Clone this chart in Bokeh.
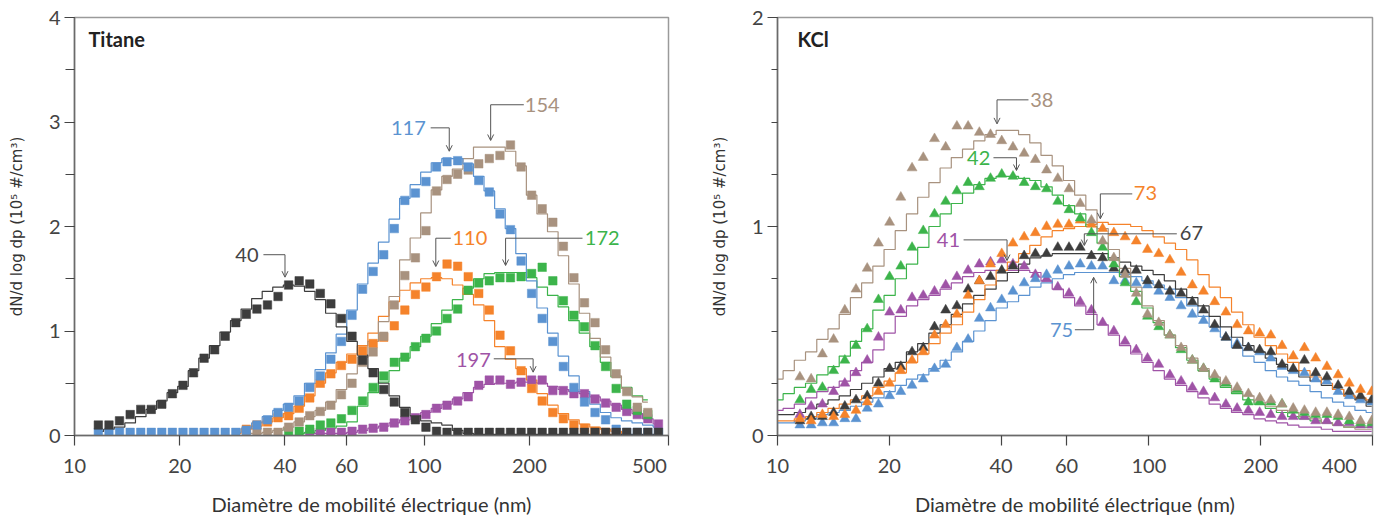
import numpy as np
from bokeh.plotting import figure
from bokeh.layouts import row
from bokeh.models import (FixedTicker, SingleIntervalTicker, Arrow, OpenHead, Label,
                          Range1d, BasicTickFormatter)
from bokeh.embed import file_html
from bokeh.resources import INLINE

nan = float("nan")

# ---------------- Titane (left panel) ----------------
diam_ti = [11.70, 12.55, 13.45, 14.43, 15.47, 16.58, 17.77, 19.05, 20.43, 21.90,
           23.48, 25.17, 26.98, 28.93, 31.01, 33.25, 35.64, 38.21, 40.97, 43.92,
           47.09, 50.47, 54.11, 58.02, 62.20, 66.68, 71.48, 76.63, 82.16, 88.08,
           94.41, 101.2, 108.5, 116.3, 124.7, 133.7, 143.3, 153.6, 164.8, 176.6,
           189.4, 203.0, 217.6, 233.4, 250.2, 268.2, 287.5, 308.2, 330.4, 354.2,
           379.7, 407.1, 436.4, 468.0]

ti40_pts = [0.10, 0.10, 0.14, 0.20, 0.25, 0.25, 0.30, 0.40, 0.48, 0.60,
            0.74, 0.82, 0.95, 1.08, 1.16, 1.21, 1.25, 1.33, 1.44, 1.48,
            1.45, 1.36, 1.26, 1.12, 0.95, 0.72, 0.60, 0.44, 0.32, 0.22,
            0.15, 0.08, 0.04] + [0.03] * 21
ti40_fit = [0.04, 0.06, 0.08, 0.12, 0.18, 0.25, 0.33, 0.41, 0.47, 0.62,
            0.74, 0.86, 0.99, 1.10, 1.21, 1.31, 1.38, 1.42, 1.44, 1.43,
            1.38, 1.30, 1.17, 1.04, 0.90, 0.77, 0.64, 0.50, 0.38, 0.27,
            0.19, 0.14, 0.12, 0.10, 0.05, 0.02] + [0.01] * 18

ti117_pts = [0.03] * 14 + [0.05, 0.10, 0.15, 0.22, 0.27, 0.33, 0.46, 0.57, 0.73, 0.90,
                           1.15, 1.40, 1.57, 1.73, 1.98, 2.25, 2.32, 2.43, 2.57, 2.62,
                           2.63, 2.57, 2.44, 2.33, 2.12, 1.97, 1.67, 1.36, 1.12, 0.90,
                           0.66, 0.46, 0.32, 0.22, 0.15, 0.06, 0.03, 0.03, 0.03, 0.03]
ti117_fit = [nan] * 13 + [0.03, 0.07, 0.12, 0.18, 0.24, 0.30, 0.38, 0.50, 0.63, 0.79,
                          0.97, 1.20, 1.45, 1.65, 1.85, 2.07, 2.27, 2.40, 2.52, 2.61,
                          2.65, 2.65, 2.60, 2.48, 2.34, 2.17, 1.98, 1.74, 1.48, 1.22,
                          0.98, 0.76, 0.57, 0.42, 0.30, 0.22, 0.17, 0.14, 0.12, 0.10,
                          0.08]

ti154_pts = [nan] * 14 + [0.03, 0.03, 0.03, 0.03, 0.08, 0.13, 0.19, 0.23, 0.29, 0.39,
                          0.50, 0.70, 0.80, 0.95, 1.25, 1.53, 1.70, 1.96, 2.34, 2.45,
                          2.50, 2.54, 2.60, 2.65, 2.68, 2.78, 2.57, 2.30, 2.17, 2.04,
                          1.81, 1.51, 1.27, 1.08, 0.82, 0.59, 0.42, 0.27, 0.22, nan]
ti154_fit = [nan] * 14 + [0.02, 0.02, 0.03, 0.05, 0.08, 0.13, 0.18, 0.24, 0.32, 0.44,
                          0.59, 0.75, 0.90, 1.09, 1.33, 1.68, 1.89, 2.13, 2.35, 2.48,
                          2.55, 2.65, 2.76, 2.76, 2.76, 2.72, 2.58, 2.30, 2.12, 1.95,
                          1.72, 1.45, 1.17, 0.93, 0.75, 0.57, 0.45, 0.37, 0.32, nan]

ti110_pts = [nan] * 14 + [0.06, 0.10, 0.13, 0.17, 0.19, 0.26, 0.36, 0.50, 0.59, 0.67,
                          0.73, 0.81, 0.88, 0.94, 1.05, 1.20, 1.35, 1.42, 1.52, 1.64,
                          1.62, 1.52, 1.36, 1.20, 0.96, 0.81, 0.62, 0.45, 0.33, 0.22,
                          0.16, 0.10, 0.07, 0.04, 0.03, 0.03, nan, nan, nan, nan]
ti110_fit = [nan] * 13 + [0.02, 0.06, 0.09, 0.13, 0.17, 0.21, 0.28, 0.38, 0.50, 0.60,
                          0.70, 0.78, 0.86, 0.98, 1.14, 1.28, 1.39, 1.46, 1.50, 1.51,
                          1.50, 1.44, 1.35, 1.25, 1.10, 0.85, 0.73, 0.64, 0.53, 0.40,
                          0.29, 0.21, 0.15, 0.11, 0.08, 0.06, 0.04, 0.02, nan, nan,
                          nan]

ti172_pts = [nan] * 18 + [0.03, 0.04, 0.06, 0.10, 0.12, 0.16, 0.24, 0.33, 0.46, 0.57,
                          0.70, 0.75, 0.85, 0.93, 1.00, 1.12, 1.21, 1.39, 1.46, 1.48,
                          1.51, 1.51, 1.52, 1.55, 1.61, 1.48, 1.29, 1.15, 1.04, 0.86,
                          0.66, 0.45, 0.30, 0.24, 0.20, nan]
ti172_fit = [nan] * 19 + [0.02, 0.03, 0.05, 0.07, 0.09, 0.13, 0.28, 0.41, 0.51, 0.62,
                          0.74, 0.85, 0.95, 1.07, 1.20, 1.30, 1.41, 1.50, 1.55, 1.56,
                          1.56, 1.56, 1.51, 1.42, 1.34, 1.23, 1.10, 0.98, 0.85, 0.70,
                          0.56, 0.46, 0.38, 0.34, nan]

ti197_pts = [nan] * 20 + [0.03, 0.03, 0.03, 0.03, 0.04, 0.06, 0.07, 0.08, 0.12, 0.14,
                          0.17, 0.20, 0.26, 0.29, 0.33, 0.37, 0.48, 0.53, 0.53, 0.49,
                          0.51, 0.53, 0.53, 0.43, 0.43, 0.40, 0.40, 0.35, 0.31, 0.27,
                          0.23, 0.20, 0.16, 0.11]
ti197_fit = [nan] * 20 + [0.02, 0.02, 0.02, 0.02, 0.03, 0.05, 0.07, 0.09, 0.12, 0.15,
                          0.18, 0.22, 0.26, 0.30, 0.35, 0.41, 0.46, 0.49, 0.50, 0.50,
                          0.51, 0.51, 0.50, 0.47, 0.44, 0.42, 0.40, 0.37, 0.33, 0.29,
                          0.25, 0.21, 0.16, 0.11]

ti_labels = ["40", "117", "154", "110", "172", "197"]
ti_label_x = [33.6, 101.1, 194.1, 120.5, 288.2, 155.1]
ti_label_y = [1.73, 2.943, 3.163, 1.888, 1.888, 0.722]
ti_label_align = ["right", "right", "left", "left", "left", "right"]
ti_lead_x0 = [34.7, 104.4, 192.8, 119.2, 283.8, 158.2]
ti_lead_x1 = [40, 118, 155, 108, 171, 205]
ti_lead_y = [1.73, 2.944, 3.165, 1.888, 1.888, 0.734]
ti_tip_y = [1.515, 2.72, 2.823, 1.617, 1.627, 0.606]

# ---------------- KCl (right panel) ----------------
diam_kcl = [10.00, 10.72, 11.49, 12.32, 13.21, 14.16, 15.18, 16.27, 17.44, 18.70,
            20.04, 21.48, 23.03, 24.69, 26.47, 28.37, 30.41, 32.60, 34.95, 37.46,
            40.16, 43.05, 46.15, 49.47, 53.03, 56.85, 60.94, 65.33, 70.03, 75.07,
            80.47, 86.27, 92.48, 99.13, 106.3, 113.9, 122.1, 130.9, 140.3, 150.4,
            161.2, 172.8, 185.3, 198.7, 213.0, 228.3, 244.7, 262.3, 281.2, 301.5,
            323.2, 346.4, 371.4, 398.1]

k38_pts = [nan, nan, 0.28, 0.27, 0.39, 0.46, 0.60, 0.70, 0.80, 0.92,
           1.02, 1.14, 1.28, 1.33, 1.42, 1.38, 1.48, 1.48, 1.45, 1.44,
           1.41, 1.38, 1.35, 1.32, 1.27, 1.23, 1.18, 1.11, 1.03, 0.93,
           0.85, 0.77, 0.68, 0.58, 0.54, 0.48, 0.42, 0.36, 0.32, 0.29,
           0.26, 0.23, 0.20, 0.18, 0.17, 0.15, 0.13, 0.12, 0.11, 0.11,
           0.10, 0.09, 0.07, 0.07]
k38_fit = [0.27, 0.31, 0.36, 0.40, 0.46, 0.51, 0.58, 0.66, 0.73, 0.81,
           0.89, 0.98, 1.06, 1.14, 1.21, 1.28, 1.33, 1.37, 1.41, 1.44,
           1.46, 1.46, 1.44, 1.40, 1.34, 1.29, 1.22, 1.15, 1.08, 0.99,
           0.89, 0.80, 0.71, 0.62, 0.55, 0.48, 0.43, 0.37, 0.32, 0.28,
           0.24, 0.21, 0.19, 0.16, 0.14, 0.12, 0.11, 0.09, 0.08, 0.06,
           0.05, 0.04, 0.03, 0.03]

k42_pts = [nan, nan, 0.17, 0.22, 0.23, 0.31, 0.36, 0.43, 0.51, 0.65,
           0.76, 0.81, 0.90, 0.98, 1.06, 1.12, 1.17, 1.21, 1.19, 1.23,
           1.25, 1.24, 1.21, 1.19, 1.18, 1.12, 1.08, 1.04, 0.97, 0.90,
           0.82, 0.73, 0.64, 0.57, 0.52, 0.48, 0.41, 0.36, 0.32, 0.27,
           0.25, 0.22, 0.16, 0.16, 0.16, 0.15, 0.12, 0.11, 0.10, 0.10,
           0.09, 0.07, 0.06, 0.06]
k42_fit = [0.17, 0.20, 0.23, 0.25, 0.29, 0.33, 0.38, 0.45, 0.51, 0.60,
           0.67, 0.75, 0.82, 0.90, 1.00, 1.06, 1.11, 1.16, 1.20, 1.23,
           1.24, 1.24, 1.23, 1.22, 1.19, 1.15, 1.10, 1.06, 1.00, 0.92,
           0.84, 0.76, 0.69, 0.61, 0.54, 0.48, 0.42, 0.36, 0.31, 0.27,
           0.23, 0.20, 0.17, 0.15, 0.13, 0.11, 0.09, 0.08, 0.07, 0.06,
           0.05, 0.04, 0.04, 0.04]

k41_pts = [nan, nan, 0.10, 0.14, 0.15, 0.21, 0.25, 0.30, 0.36, 0.47,
           0.59, 0.60, 0.66, 0.67, 0.69, 0.72, 0.76, 0.79, 0.82, 0.83,
           0.84, 0.82, 0.81, 0.77, 0.75, 0.71, 0.68, 0.64, 0.60, 0.54,
           0.50, 0.45, 0.41, 0.37, 0.34, 0.29, 0.26, 0.23, 0.21, 0.18,
           0.15, 0.13, 0.12, 0.11, 0.10, 0.09, 0.09, 0.09, 0.07, 0.07,
           0.06, 0.06, 0.05, 0.05]
k41_fit = [0.12, 0.13, 0.15, 0.18, 0.21, 0.23, 0.26, 0.31, 0.35, 0.41,
           0.49, 0.57, 0.62, 0.65, 0.67, 0.70, 0.73, 0.76, 0.78, 0.79,
           0.79, 0.79, 0.79, 0.78, 0.74, 0.70, 0.66, 0.62, 0.58, 0.53,
           0.48, 0.43, 0.39, 0.35, 0.31, 0.27, 0.24, 0.21, 0.18, 0.15,
           0.13, 0.11, 0.10, 0.08, 0.07, 0.06, 0.05, 0.04, 0.04, 0.03,
           0.02, 0.02, 0.02, 0.02]

k67_pts = [nan, nan, 0.07, 0.09, 0.09, 0.11, 0.14, 0.17, 0.19, 0.25,
           0.32, 0.33, 0.40, 0.42, 0.52, 0.60, 0.62, 0.70, 0.74, 0.76,
           0.79, 0.81, 0.86, 0.87, 0.87, 0.90, 0.90, 0.90, 0.86, 0.85,
           0.80, 0.79, 0.79, 0.74, 0.72, 0.69, 0.68, 0.64, 0.60, 0.53,
           0.47, 0.43, 0.42, 0.41, 0.40, 0.34, 0.32, 0.36, 0.30, 0.28,
           0.24, 0.21, 0.19, 0.17]
k67_fit = [0.10, 0.10, 0.11, 0.13, 0.15, 0.17, 0.19, 0.22, 0.25, 0.28,
           0.32, 0.35, 0.40, 0.44, 0.49, 0.53, 0.58, 0.63, 0.67, 0.70,
           0.74, 0.78, 0.82, 0.85, 0.86, 0.87, 0.87, 0.87, 0.87, 0.87,
           0.85, 0.83, 0.81, 0.79, 0.77, 0.74, 0.70, 0.66, 0.62, 0.57,
           0.52, 0.47, 0.43, 0.40, 0.37, 0.34, 0.31, 0.28, 0.26, 0.24,
           0.22, 0.19, 0.17, 0.14]

k73_pts = [nan, nan, 0.08, 0.07, 0.10, 0.09, 0.10, 0.12, 0.16, 0.21,
           0.25, 0.31, 0.36, 0.40, 0.48, 0.53, 0.58, 0.67, 0.74, 0.82,
           0.87, 0.92, 0.95, 0.97, 1.00, 1.01, 1.01, 1.03, 1.01, 0.99,
           0.97, 0.95, 0.93, 0.89, 0.87, 0.84, 0.78, 0.72, 0.69, 0.64,
           0.59, 0.53, 0.50, 0.49, 0.48, 0.43, 0.38, 0.42, 0.37, 0.33,
           0.29, 0.25, 0.22, 0.21]
k73_fit = [0.07, 0.07, 0.08, 0.09, 0.11, 0.13, 0.15, 0.17, 0.19, 0.23,
           0.26, 0.30, 0.35, 0.39, 0.44, 0.49, 0.53, 0.59, 0.65, 0.72,
           0.79, 0.83, 0.87, 0.91, 0.95, 0.98, 0.99, 1.00, 1.01, 1.02,
           1.01, 1.01, 1.00, 0.98, 0.95, 0.92, 0.89, 0.84, 0.77, 0.71,
           0.66, 0.59, 0.53, 0.47, 0.43, 0.39, 0.35, 0.31, 0.28, 0.25,
           0.22, 0.19, 0.18, 0.17]

k75_pts = [nan, nan, 0.05, 0.05, 0.06, 0.06, 0.08, 0.08, 0.13, 0.15,
           0.19, 0.21, 0.24, 0.27, 0.32, 0.34, 0.42, 0.46, 0.56, 0.61,
           0.65, 0.69, 0.73, 0.75, 0.77, 0.79, 0.81, 0.82, 0.81, 0.81,
           0.74, 0.74, 0.73, 0.72, 0.69, 0.66, 0.62, 0.58, 0.55, 0.51,
           0.47, 0.44, 0.42, 0.40, 0.37, 0.33, 0.31, 0.30, 0.27, 0.26,
           0.21, 0.19, 0.17, 0.16]
k75_fit = [0.06, 0.06, 0.07, 0.08, 0.10, 0.11, 0.12, 0.14, 0.16, 0.18,
           0.21, 0.24, 0.27, 0.29, 0.32, 0.36, 0.40, 0.45, 0.50, 0.55,
           0.61, 0.64, 0.67, 0.71, 0.73, 0.75, 0.77, 0.78, 0.78, 0.78,
           0.78, 0.77, 0.76, 0.74, 0.72, 0.70, 0.66, 0.62, 0.57, 0.52,
           0.47, 0.42, 0.38, 0.35, 0.31, 0.28, 0.26, 0.24, 0.21, 0.18,
           0.16, 0.14, 0.12, 0.11]

kcl_labels = ["38", "42", "73", "67", "41", "75"]
kcl_label_x = [47.9, 37.4, 91.1, 121.1, 31.0, 62.5]
kcl_label_y = [1.605, 1.328, 1.160, 0.969, 0.935, 0.505]
kcl_label_align = ["left", "right", "left", "left", "right", "right"]
kcl_lead_x0 = [47.4, 38.15, 90.2, 118.9, 31.7, 63.2]
kcl_lead_x1 = [39, 44, 74, 67, 41.5, 71]
kcl_lead_y = [1.606, 1.329, 1.156, 0.965, 0.936, 0.506]
kcl_tip_y = [1.491, 1.268, 1.037, 0.909, 0.837, 0.757]

C_BLACK = "#3d3d3d"
C_BLUE = "#5b93d1"
C_BROWN = "#a8927f"
C_ORANGE = "#f5832b"
C_GREEN = "#3cb44b"
C_PURPLE = "#9f53a6"
C_LABEL_DARK = "#444444"
LEADER = "#555555"

ti_series = [  # drawing order
    (ti197_pts, ti197_fit, C_PURPLE),
    (ti172_pts, ti172_fit, C_GREEN),
    (ti110_pts, ti110_fit, C_ORANGE),
    (ti154_pts, ti154_fit, C_BROWN),
    (ti117_pts, ti117_fit, C_BLUE),
    (ti40_pts, ti40_fit, C_BLACK),
]
ti_label_colors = [C_LABEL_DARK, C_BLUE, C_BROWN, C_ORANGE, C_GREEN, C_PURPLE]

kcl_series = [
    (k41_pts, k41_fit, C_PURPLE),
    (k75_pts, k75_fit, C_BLUE),
    (k67_pts, k67_fit, C_BLACK),
    (k73_pts, k73_fit, C_ORANGE),
    (k42_pts, k42_fit, C_GREEN),
    (k38_pts, k38_fit, C_BROWN),
]
kcl_label_colors = [C_BROWN, C_GREEN, C_ORANGE, C_LABEL_DARK, C_PURPLE, C_BLUE]

FONT = "Lato"
FIG_H = 520
FRAME_TOP = 17
FRAME_H = 418


def make_panel(width, bl, br, xmax, ymax, xticks, n_minor, minor_len, last_label):
    p = figure(width=width, height=FIG_H, x_axis_type="log",
               x_range=Range1d(10, xmax), y_range=Range1d(0, ymax),
               output_backend="svg", toolbar_location=None,
               min_border_left=bl, min_border_right=br,
               min_border_top=FRAME_TOP, min_border_bottom=FIG_H - FRAME_TOP - FRAME_H)
    p.xgrid.visible = False
    p.ygrid.visible = False
    p.background_fill_color = "white"
    p.border_fill_color = "white"
    p.outline_line_color = "#9a9a9a"
    p.outline_line_width = 1.5
    p.xaxis.ticker = FixedTicker(ticks=xticks, minor_ticks=[])
    p.xaxis.formatter = BasicTickFormatter()
    p.xaxis.major_label_overrides = {xticks[-1]: last_label}
    p.yaxis.ticker = SingleIntervalTicker(interval=1, num_minor_ticks=n_minor)
    for ax in (p.xaxis[0], p.yaxis[0]):
        ax.axis_line_color = "#6a6a6a"
        ax.axis_line_width = 1.5
        ax.major_tick_in = 0
        ax.major_tick_out = 10
        ax.minor_tick_in = 0
        ax.major_tick_line_color = "#444444"
        ax.major_tick_line_width = 1.2
        ax.minor_tick_line_color = "#444444"
        ax.minor_tick_line_width = 1.2
        ax.major_label_text_font = FONT
        ax.major_label_text_font_size = "20px"
        ax.major_label_text_color = "#444444"
    p.yaxis.minor_tick_out = minor_len
    p.xaxis.major_label_standoff = 7
    p.yaxis.major_label_standoff = 4
    p.xaxis.axis_label = "Diamètre de mobilité électrique (nm)"
    p.xaxis.axis_label_text_font = FONT
    p.xaxis.axis_label_text_font_size = "20px"
    p.xaxis.axis_label_text_font_style = "normal"
    p.xaxis.axis_label_text_color = "#333333"
    p.xaxis.axis_label_standoff = 12
    p.yaxis.axis_label = "dN/d log dp (10\u2075 #/cm\u00b3)"
    p.yaxis.axis_label_text_font = "DejaVu Sans"
    p.yaxis.axis_label_text_font_size = "15px"
    p.yaxis.axis_label_text_font_style = "normal"
    p.yaxis.axis_label_text_color = "#333333"
    p.yaxis.axis_label_standoff = 20
    return p


def draw_series(p, diam, series, marker, size):
    x_all = np.array(diam, dtype=float)
    for pts, fit, color in series:
        f = np.array(fit, dtype=float)
        m = ~np.isnan(f)
        p.step(x_all[m], f[m], mode="center", line_color=color, line_width=1.2)
    for pts, fit, color in series:
        y = np.array(pts, dtype=float)
        m = ~np.isnan(y)
        p.scatter(x_all[m], y[m], marker=marker, size=size, fill_color=color,
                  line_color=color, line_width=0.5)


def draw_labels(p, labels, lx, ly, align, x0, x1, yl, ytip, colors):
    for i, t in enumerate(labels):
        p.add_layout(Label(x=lx[i], y=ly[i], text=t, text_align=align[i],
                           text_baseline="middle", text_font=FONT,
                           text_font_size="20px", text_color=colors[i]))
        p.line([x0[i], x1[i]], [yl[i], yl[i]], line_color=LEADER, line_width=1)
        p.add_layout(Arrow(end=OpenHead(size=6, line_color=LEADER, line_width=1),
                           x_start=x1[i], y_start=yl[i], x_end=x1[i], y_end=ytip[i],
                           line_color=LEADER, line_width=1))


pad = "\u00a0" * 5
p1 = make_panel(692, 74, 24, 500, 4, [10, 20, 40, 60, 100, 200, 500], 2, 9, "500" + pad)
draw_series(p1, diam_ti, ti_series, "square", 8.5)
draw_labels(p1, ti_labels, ti_label_x, ti_label_y, ti_label_align,
            ti_lead_x0, ti_lead_x1, ti_lead_y, ti_tip_y, ti_label_colors)
p1.add_layout(Label(x=10.96, y=3.794, text="Titane", text_baseline="middle",
                    text_font=FONT, text_font_size="20px", text_font_style="bold",
                    text_color="#222222"))

p2 = make_panel(690, 85, 10, 400, 2, [10, 20, 40, 60, 100, 200, 400], 4, 6, "400" + pad)
draw_series(p2, diam_kcl, kcl_series, "triangle", 10)
draw_labels(p2, kcl_labels, kcl_label_x, kcl_label_y, kcl_label_align,
            kcl_lead_x0, kcl_lead_x1, kcl_lead_y, kcl_tip_y, kcl_label_colors)
p2.add_layout(Label(x=11.32, y=1.897, text="KCl", text_baseline="middle",
                    text_font=FONT, text_font_size="20px", text_font_style="bold",
                    text_color="#222222"))

layout = row(p1, p2)
open("out.html", "w").write(file_html(layout, INLINE))
